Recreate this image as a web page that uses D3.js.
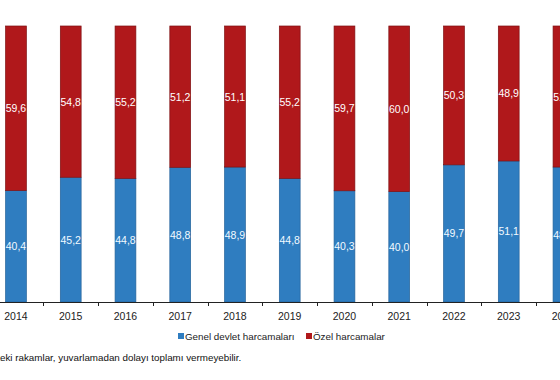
<!DOCTYPE html>
<html>
<head>
<meta charset="utf-8">
<script src="https://cdn.jsdelivr.net/npm/d3@7"></script>
<style>
  body { margin: 0; background: #fff; }
  svg { display: block; font-family: "Liberation Sans", Arial, sans-serif; }
</style>
</head>
<body>
<svg width="560" height="380"></svg>
<script>
// Data
const years = ["2014", "2015", "2016", "2017", "2018", "2019", "2020", "2021", "2022", "2023", "2024"];
const genelDevlet = [40.4, 45.2, 44.8, 48.8, 48.9, 44.8, 40.3, 40.0, 49.7, 51.1, 48.9];
const ozel = [59.6, 54.8, 55.2, 51.2, 51.1, 55.2, 59.7, 60.0, 50.3, 48.9, 51.1];
const seriesNames = ["Genel devlet harcamaları", "Özel harcamalar"];
const note = "Grafikteki rakamlar, yuvarlamadan dolayı toplamı vermeyebilir.";

const blue = "#2f7dc0";
const red = "#b0181b";

const svg = d3.select("svg");

// Scales
const x = d3.scaleBand()
  .domain(years)
  .range([-11.4, -11.4 + 11 * 54.75])
  .paddingInner(0.62)
  .paddingOuter(0.31);

const y = d3.scaleLinear().domain([0, 100]).range([302, 26]);

const rows = years.map((yr, i) => ({ year: yr, g: genelDevlet[i], o: ozel[i] }));

// Blue (bottom) segments
svg.selectAll("rect.g")
  .data(rows)
  .enter()
  .append("rect")
  .attr("class", "g")
  .attr("x", d => x(d.year))
  .attr("width", x.bandwidth())
  .attr("y", d => y(d.g))
  .attr("height", d => y(0) - y(d.g))
  .attr("fill", blue)
  .attr("stroke", "#24639a")
  .attr("stroke-width", 0.7);

// Red (top) segments
svg.selectAll("rect.o")
  .data(rows)
  .enter()
  .append("rect")
  .attr("class", "o")
  .attr("x", d => x(d.year))
  .attr("width", x.bandwidth())
  .attr("y", d => y(d.g + d.o))
  .attr("height", d => y(d.g) - y(d.g + d.o))
  .attr("fill", red)
  .attr("stroke", "#7e1012")
  .attr("stroke-width", 0.7);

const fmt = v => v.toFixed(1).replace(".", ",");

// Value labels
svg.selectAll("text.lg")
  .data(rows)
  .enter()
  .append("text")
  .attr("x", d => x(d.year) + x.bandwidth() / 2)
  .attr("y", d => (y(0) + y(d.g)) / 2 + 4)
  .attr("text-anchor", "middle")
  .style("font-size", "10.5px")
  .style("fill", "#f2faff")
  .text(d => fmt(d.g));

svg.selectAll("text.lo")
  .data(rows)
  .enter()
  .append("text")
  .attr("x", d => x(d.year) + x.bandwidth() / 2)
  .attr("y", d => (y(d.g) + y(d.g + d.o)) / 2 + 4)
  .attr("text-anchor", "middle")
  .style("font-size", "10.5px")
  .style("fill", "#fff")
  .text(d => fmt(d.o));

// X axis line and ticks between categories
svg.append("line")
  .attr("x1", 0).attr("x2", 560)
  .attr("y1", y(0) + 0.5).attr("y2", y(0) + 0.5)
  .attr("stroke", "#222");

svg.selectAll("line.tick")
  .data(years)
  .enter()
  .append("line")
  .attr("x1", d => Math.round(x(d) - x.step() * 0.31) + 0.5)
  .attr("x2", d => Math.round(x(d) - x.step() * 0.31) + 0.5)
  .attr("y1", y(0))
  .attr("y2", y(0) + 4)
  .attr("stroke", "#222");

svg.selectAll("text.year")
  .data(years)
  .enter()
  .append("text")
  .attr("x", d => x(d) + x.bandwidth() / 2)
  .attr("y", 320)
  .attr("text-anchor", "middle")
  .style("font-size", "10.5px")
  .style("fill", "#222")
  .text(d => d);

// Legend
const legend = [
  { name: seriesNames[0], color: blue, x: 178 },
  { name: seriesNames[1], color: red, x: 306 }
];
legend.forEach(l => {
  svg.append("rect")
    .attr("x", l.x).attr("y", 333)
    .attr("width", 6).attr("height", 6)
    .attr("fill", l.color);
  svg.append("text")
    .attr("x", l.x + 7).attr("y", 340)
    .style("font-size", "9.8px")
    .style("fill", "#222")
    .text(l.name);
});

// Footnote (left part cut off like the source)
const noteText = svg.append("text")
  .attr("y", 361)
  .style("font-size", "9.8px")
  .style("fill", "#111")
  .text(note);
const probe = svg.append("text").style("font-size", "9.8px").text("Grafikt");
const cut = probe.node().getComputedTextLength();
probe.remove();
noteText.attr("x", -cut);
</script>
</body>
</html>
